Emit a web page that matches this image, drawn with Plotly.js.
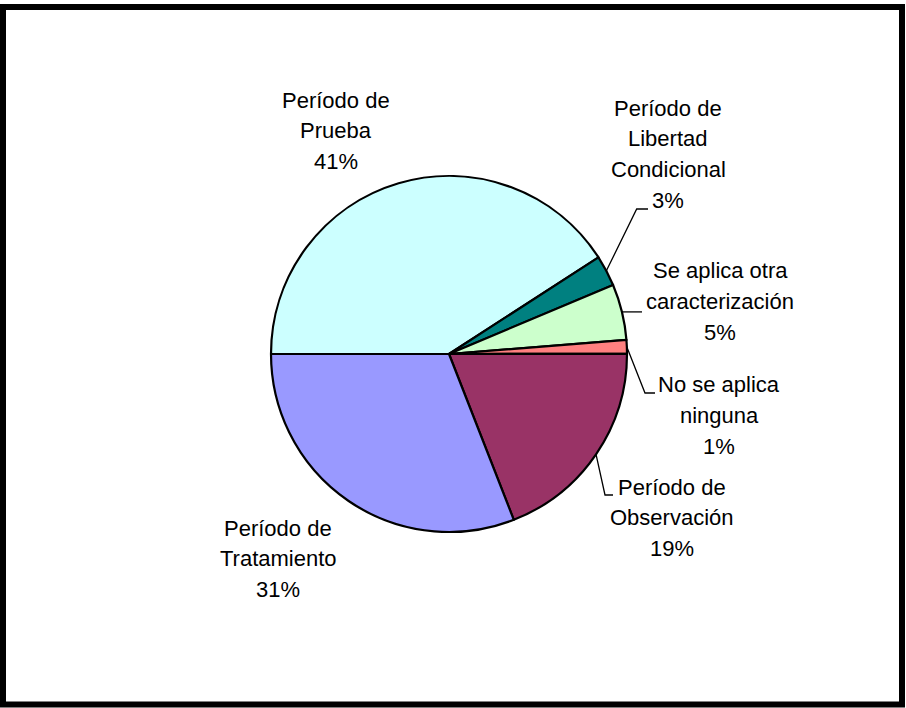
<!DOCTYPE html>
<html><head><meta charset="utf-8">
<script src="https://cdn.plot.ly/plotly-3.0.1.min.js"></script>
<style>html,body{margin:0;padding:0;background:#fff}#chart{width:906px;height:708px}</style>
</head><body><div id="chart"></div>
<script>
// ---- data ----
const categories = ["Período de Prueba", "Período de Libertad Condicional", "Se aplica otra caracterización", "No se aplica ninguna", "Período de Observación", "Período de Tratamiento"];
const labelLines = [["Período de", "Prueba"], ["Período de", "Libertad", "Condicional"], ["Se aplica otra", "caracterización"], ["No se aplica", "ninguna"], ["Período de", "Observación"], ["Período de", "Tratamiento"]];
const values = [40.86, 2.8, 5.08, 1.25, 19.08, 30.93];
const colors = ["#CCFFFF", "#008080", "#CCFFCC", "#FF8080", "#993366", "#9999FF"];

// ---- layout constants (pixels) ----
const W = 906, H = 708;
const cx = 449, cy = 354, R = 178;
const labelPos = [{x:336,y:100},{x:668,y:108},{x:720,y:271},{x:719,y:385},{x:672,y:487},{x:278,y:528}];
const leaderPts = [null, [[636.7,209],[648,209]], [[642,null]], [[645,393],[655,393]], [[605,495],[613,495]], null];
const lineGap = 30.8;
const font = {family: "Liberation Sans, Arial, sans-serif", size: 22, color: "#000"};

const px = x => x / W, py = y => 1 - y / H;
const total = values.reduce((a,b)=>a+b,0);

const annotations = [];
const shapes = [];
let cum = 0;
values.forEach((v, i) => {
  const mid = (180 - 360 * (cum + v/2) / total) * Math.PI / 180;
  cum += v;
  const lines = labelLines[i].concat([Math.round(v / total * 100) + "%"]);
  lines.forEach((t, k) => {
    annotations.push({x: px(labelPos[i].x), y: py(labelPos[i].y + k*lineGap), xref:"paper", yref:"paper",
      text: t, showarrow:false, xanchor:"center", yanchor:"middle", font: font});
  });
  if (leaderPts[i]) {
    const sx = cx + R*Math.cos(mid), sy = cy - R*Math.sin(mid);
    let d = "M" + px(sx) + "," + py(sy);
    leaderPts[i].forEach(p => { d += " L" + px(p[0]) + "," + py(p[1] === null ? sy : p[1]); });
    shapes.push({type:"path", xref:"paper", yref:"paper", path:d, line:{color:"#000", width:1.3}});
  }
});
// outer frame
shapes.push({type:"rect", xref:"paper", yref:"paper", x0:px(3), x1:px(902), y0:py(704.5), y1:py(7),
  line:{color:"#000", width:6}, fillcolor:"rgba(0,0,0,0)"});

const trace = {
  type: "pie", labels: categories, values: values, sort: false, direction: "clockwise", rotation: -90,
  marker: {colors: colors, line: {color: "#000", width: 2.2}},
  textinfo: "none", hoverinfo: "none", showlegend: false,
  domain: {x: [(cx - R)/W, (cx + R)/W], y: [(H - cy - R)/H, (H - cy + R)/H]}
};
Plotly.newPlot("chart", [trace], {
  width: W, height: H, margin: {l:0, r:0, t:0, b:0},
  paper_bgcolor: "#fff", plot_bgcolor: "#fff",
  annotations: annotations, shapes: shapes
}, {staticPlot: true});
</script></body></html>
